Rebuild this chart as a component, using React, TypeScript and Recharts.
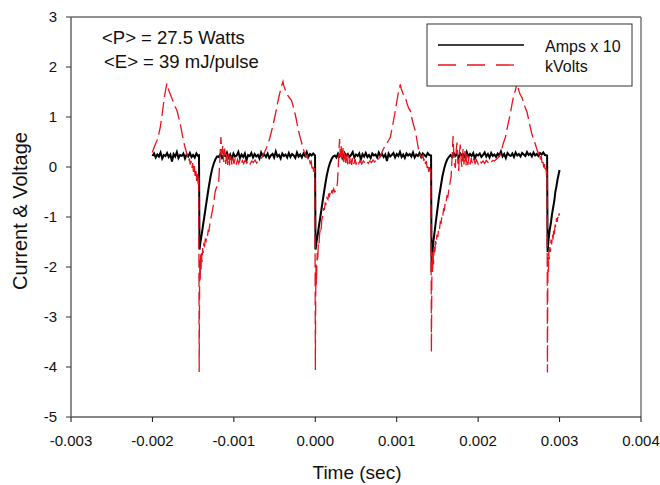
import React from 'react'
import { LineChart, Line, XAxis, YAxis, ReferenceLine } from 'recharts'

// [time in microseconds, value], one array per pulse window
const ampsA: [number, number][] = [
  [-2000, .22], [-1980, .27], [-1960, .19], [-1940, .25], [-1920, .21], [-1900, .29], [-1880, .17], [-1860, .24],
  [-1840, .22], [-1820, .28], [-1800, .2], [-1780, .25], [-1760, .11], [-1740, .26], [-1720, .21], [-1700, .3],
  [-1680, .18], [-1660, .24], [-1640, .22], [-1620, .27], [-1600, .17], [-1580, .25], [-1560, .21], [-1540, .28],
  [-1520, .2], [-1500, .24], [-1480, .19], [-1460, .27], [-1440, .22], [-1428, .23],
]
const ampsB: [number, number][] = [
  [-1422, -1.65], [-1410, -1.5], [-1395, -1.35], [-1380, -1.18], [-1365, -1.02], [-1345, -.8], [-1325, -.58],
  [-1305, -.37], [-1285, -.18], [-1265, -.03], [-1245, .08], [-1225, .16], [-1205, .21],
  [-1185, .2], [-1165, .26], [-1145, .18], [-1125, .24], [-1105, .22], [-1085, .29], [-1065, .19], [-1045, .25],
  [-1025, .16], [-1005, .27], [-985, .21], [-965, .23], [-945, .3], [-925, .18], [-905, .25], [-885, .2],
  [-865, .27], [-845, .13], [-825, .24], [-805, .22], [-785, .28], [-765, .19], [-745, .26], [-725, .21],
  [-705, .24], [-685, .17], [-665, .29], [-645, .22], [-625, .25], [-605, .2], [-585, .27], [-565, .18],
  [-545, .23], [-525, .26], [-505, .19], [-485, .31], [-465, .21], [-445, .24], [-425, .17], [-405, .27],
  [-385, .22], [-365, .25], [-345, .19], [-325, .28], [-305, .2], [-285, .26], [-265, .23], [-245, .18],
  [-225, .29], [-205, .21], [-185, .25], [-165, .19], [-145, .27], [-125, .22], [-105, .3], [-85, .2],
  [-65, .26], [-45, .23], [-25, .27], [-3, .23],
]
const ampsC: [number, number][] = [
  [3, -1.65], [15, -1.5], [30, -1.35], [45, -1.18], [60, -1.02], [80, -.8], [100, -.58], [120, -.37],
  [140, -.18], [160, -.03], [180, .08], [200, .16], [220, .21],
  [240, .23], [260, .19], [280, .27], [300, .21], [320, .25], [340, .17], [360, .28], [380, .22],
  [400, .26], [420, .2], [440, .24], [460, .3], [480, .19], [500, .25], [520, .22], [540, .27],
  [560, .15], [580, .26], [600, .21], [620, .28], [640, .2], [660, .24], [680, .18], [700, .27],
  [720, .23], [740, .25], [760, .19], [780, .29], [800, .22], [820, .26], [840, .2], [860, .25],
  [880, .12], [900, .27], [920, .21], [940, .24], [960, .28], [980, .19], [1000, .26], [1020, .22],
  [1040, .3], [1060, .2], [1080, .25], [1100, .18], [1120, .27], [1140, .23], [1160, .26], [1180, .21],
  [1200, .29], [1220, .19], [1240, .25], [1260, .22], [1280, .28], [1300, .2], [1320, .27], [1340, .24],
  [1360, .21], [1380, .28], [1400, .24], [1422, .23],
]
const ampsD: [number, number][] = [
  [1428, -2.1], [1438, -1.75], [1450, -1.5], [1465, -1.3], [1480, -1.1], [1500, -.85], [1520, -.6],
  [1540, -.4], [1560, -.2], [1580, -.05], [1600, .07], [1620, .15], [1640, .2],
  [1660, .24], [1680, .2], [1700, .28], [1720, .22], [1740, .26], [1760, .18], [1780, .27], [1800, .23],
  [1820, .25], [1840, .19], [1860, .3], [1880, .21], [1900, .26], [1920, .22], [1940, .28], [1960, .17],
  [1980, .25], [2000, .23], [2020, .27], [2040, .2], [2060, .24], [2080, .29], [2100, .21], [2120, .26],
  [2140, .19], [2160, .28], [2180, .22], [2200, .25], [2220, .2], [2240, .27], [2260, .23], [2280, .31],
  [2300, .21], [2320, .26], [2340, .18], [2360, .28], [2380, .24], [2400, .22], [2420, .27], [2440, .2],
  [2460, .29], [2480, .23], [2500, .26], [2520, .21], [2540, .28], [2560, .25], [2580, .22], [2600, .3],
  [2620, .24], [2640, .27], [2660, .21], [2680, .29], [2700, .23], [2720, .26], [2740, .22], [2760, .28],
  [2780, .25], [2800, .29], [2820, .24], [2847, .23],
]
const ampsE: [number, number][] = [
  [2853, -1.7], [2865, -1.45], [2880, -1.25], [2895, -1.1], [2907, -.95], [2920, -.82], [2935, -.68],
  [2948, -.5], [2960, -.4], [2975, -.25], [2988, -.15], [3000, -.06],
]

const voltsA: [number, number][] = [
  [-2000, .29], [-1985, .37], [-1970, .43], [-1955, .49], [-1945, .52], [-1932, .6], [-1918, .69], [-1904, .79],
  [-1890, .95], [-1877, 1.1], [-1864, 1.26], [-1850, 1.42], [-1836, 1.56], [-1826, 1.64], [-1822, 1.67],
  [-1812, 1.6], [-1802, 1.55], [-1792, 1.5], [-1781, 1.46], [-1770, 1.41], [-1760, 1.37], [-1750, 1.33],
  [-1741, 1.29], [-1730, 1.25], [-1720, 1.2], [-1710, 1.17], [-1699, 1.13], [-1688, 1.06], [-1678, .99],
  [-1668, .93], [-1658, .86], [-1648, .77], [-1638, .69], [-1628, .6], [-1618, .52], [-1608, .45],
  [-1597, .38], [-1587, .32], [-1576, .26], [-1566, .18], [-1556, .12], [-1546, .17], [-1536, .05],
  [-1526, .12], [-1516, -.02], [-1506, .08], [-1496, -.1], [-1486, .02], [-1476, -.18], [-1466, -.05],
  [-1456, -.28], [-1446, -.12], [-1438, -.35], [-1431, -.2],
]
const voltsB: [number, number][] = [
  [-1426, -4.1], [-1421, -2.4], [-1417, -1.85], [-1413, -2.25], [-1408, -1.75], [-1403, -2.05], [-1397, -1.72],
  [-1391, -1.9], [-1384, -1.62], [-1377, -1.72], [-1369, -1.55], [-1360, -1.58], [-1351, -1.45], [-1342, -1.48],
  [-1333, -1.36], [-1324, -1.38], [-1315, -1.27], [-1306, -1.28], [-1297, -1.16], [-1288, -1.1], [-1279, -1.0],
  [-1270, -.93], [-1260, -.84], [-1250, -.74], [-1240, -.62], [-1230, -.5], [-1220, -.44], [-1210, -.4],
  [-1200, -.38], [-1188, -.36], [-1175, .05], [-1159, .6], [-1148, .25], [-1135, .44], [-1124, .1],
  [-1112, .37], [-1100, .06], [-1088, .3], [-1075, .04], [-1062, .26], [-1050, .03], [-1038, .22],
  [-1025, .05], [-1012, .19], [-1000, .06], [-985, .17], [-970, .05], [-955, .15], [-940, .07], [-925, .14],
  [-910, .06], [-895, .13], [-880, .07], [-860, .14], [-840, .08], [-820, .13], [-800, .06], [-780, .12],
  [-760, .09], [-740, .14], [-720, .08], [-700, .12], [-680, .13], [-660, .18], [-640, .25], [-620, .31],
  [-600, .38], [-580, .47], [-560, .57], [-540, .7], [-520, .83], [-500, .98], [-480, 1.13], [-460, 1.3],
  [-440, 1.45], [-420, 1.58], [-407, 1.66], [-397, 1.71], [-386, 1.62], [-374, 1.57], [-361, 1.5],
  [-348, 1.46], [-334, 1.42], [-320, 1.39], [-305, 1.36], [-290, 1.32], [-275, 1.24], [-260, 1.14],
  [-246, 1.05], [-232, .94], [-218, .82], [-205, .72], [-190, .62], [-175, .53], [-163, .46], [-150, .38],
  [-137, .31], [-123, .26], [-110, .2], [-98, .23], [-86, .12], [-74, .16], [-62, .07], [-50, .11],
  [-40, -.03], [-30, .05], [-20, -.1], [-12, -.02], [-5, -.16],
]
const voltsC: [number, number][] = [
  [1, -4.06], [5, -2.6], [9, -1.95], [13, -2.35], [18, -2.05], [24, -1.72], [30, -1.88], [37, -1.55],
  [44, -1.6], [52, -1.35], [61, -1.25], [70, -1.3], [80, -1.05], [90, -1.0], [102, -.82], [112, -.86],
  [122, -.72], [132, -.74], [143, -.62], [155, -.65], [165, -.53], [175, -.58], [185, -.5], [195, -.55],
  [205, -.46], [215, -.51], [226, -.44], [240, -.5], [258, -.46], [272, -.32], [286, .15], [298, .56],
  [308, .2], [318, .42], [328, .12], [340, .38], [350, .1], [362, .32], [374, .08], [386, .28], [398, .05],
  [410, .24], [422, .06], [434, .2], [446, .04], [460, .18], [474, .06], [488, .16], [502, .05], [518, .14],
  [535, .07], [550, .13], [570, .06], [590, .12], [610, .08], [630, .13], [650, .07], [670, .12], [690, .09],
  [710, .14], [730, .1], [750, .15], [765, .12], [780, .17], [800, .22], [820, .3], [840, .37], [860, .43],
  [880, .48], [900, .53], [921, .59], [940, .75], [960, .92], [980, 1.1], [1000, 1.3], [1020, 1.48],
  [1034, 1.58], [1044, 1.65], [1055, 1.57], [1070, 1.5], [1085, 1.43], [1106, 1.39], [1125, 1.28],
  [1145, 1.18], [1167, 1.13], [1185, .98], [1205, .85], [1229, .72], [1250, .52], [1270, .33], [1290, .24],
  [1311, .19], [1323, .23], [1333, .12], [1343, .18], [1353, .06], [1363, .12], [1373, -.02], [1383, .06],
  [1393, -.1], [1403, 0], [1412, -.14], [1419, -.05],
]
const voltsD: [number, number][] = [
  [1426, -3.7], [1431, -2.3], [1435, -1.7], [1440, -2.1], [1446, -1.75], [1452, -1.95], [1460, -1.6],
  [1468, -1.75], [1476, -1.48], [1485, -1.55], [1495, -1.35], [1505, -1.4], [1515, -1.22], [1525, -1.25],
  [1535, -1.1], [1545, -1.12], [1556, -.95], [1566, -.98], [1576, -.84], [1586, -.86], [1597, -.68],
  [1607, -.7], [1617, -.58], [1628, -.6], [1638, -.48], [1648, -.4], [1658, -.28], [1668, -.2], [1680, .2],
  [1692, .62], [1705, .1], [1720, -.02], [1731, .35], [1741, .49], [1751, .1], [1761, -.08], [1771, .3],
  [1781, .45], [1792, .1], [1802, 0], [1814, .36], [1826, .05], [1838, .32], [1850, .02], [1862, .26],
  [1874, .04], [1888, .22], [1902, .05], [1916, .18], [1930, .06], [1946, .16], [1962, .07], [1980, .14],
  [2000, .06], [2020, .13], [2040, .08], [2060, .12], [2080, .07], [2100, .13], [2120, .09], [2140, .14],
  [2160, .1], [2180, .13], [2200, .12], [2220, .15], [2240, .18], [2260, .22], [2273, .25], [2290, .36],
  [2310, .48], [2334, .59], [2350, .72], [2370, .88], [2395, 1.06], [2415, 1.25], [2435, 1.42], [2457, 1.53],
  [2470, 1.62], [2478, 1.72], [2490, 1.6], [2505, 1.5], [2520, 1.44], [2539, 1.39], [2560, 1.28],
  [2580, 1.18], [2600, 1.1], [2620, .95], [2641, .79], [2660, .66], [2680, .56], [2702, .46], [2720, .36],
  [2743, .26], [2755, .3], [2765, .15], [2775, .22], [2785, .08], [2795, .14], [2805, -.01], [2815, .06],
  [2825, -.1], [2833, -.02], [2840, -.18], [2846, -.1],
]
const voltsE: [number, number][] = [
  [2851, -4.11], [2855, -2.4], [2859, -1.8], [2863, -2.1], [2867, -1.7], [2873, -1.85], [2880, -1.6],
  [2887, -1.7], [2895, -1.45], [2903, -1.55], [2912, -1.35], [2920, -1.45], [2928, -1.25], [2936, -1.35],
  [2945, -1.15], [2953, -1.2], [2962, -1.02], [2970, -1.1], [2978, -1.0], [2986, -1.05], [2994, -.93],
  [3000, -.96],
]

const xTicks = [-0.003, -0.002, -0.001, 0, 0.001, 0.002, 0.003, 0.004]
const yTicks = [-5, -4, -3, -2, -1, 0, 1, 2, 3]
const notes = ['<P> = 27.5 Watts', '<E> = 39 mJ/pulse']
const seriesNames = ['Amps x 10', 'kVolts']

const toRows = (pts: [number, number][]) => pts.map(([us, v]) => ({ t: us / 1e6, v }))
const ampsRows = toRows([...ampsA, ...ampsB, ...ampsC, ...ampsD, ...ampsE])
const voltsRows = toRows([...voltsA, ...voltsB, ...voltsC, ...voltsD, ...voltsE])

const font = '"Liberation Sans", Arial, sans-serif'
const RED = '#e8141c'

export default function App() {
  return (
    <div style={{ position: 'absolute', left: 0, top: 0, width: 660, height: 485, background: '#fff', fontFamily: font }}>
      <LineChart width={660} height={485} margin={{ top: 17, right: 19, bottom: 0, left: 0 }}>
        <XAxis
          type="number"
          dataKey="t"
          domain={[-0.003, 0.004]}
          ticks={xTicks}
          tickFormatter={(v: number) => v.toFixed(3)}
          height={68}
          tickSize={5}
          tickMargin={13}
          allowDataOverflow
          axisLine={{ stroke: '#111' }}
          tickLine={{ stroke: '#111' }}
          tick={{ fontSize: 15, fill: '#111', fontFamily: font }}
        />
        <YAxis
          type="number"
          domain={[-5, 3]}
          ticks={yTicks}
          width={71}
          tickSize={5}
          tickMargin={9}
          allowDataOverflow
          axisLine={{ stroke: '#666', strokeWidth: 1.5 }}
          tickLine={{ stroke: '#333' }}
          tick={{ fontSize: 15, fill: '#111', fontFamily: font }}
        />
        <ReferenceLine y={3} stroke="#222" />
        <ReferenceLine x={0.004} stroke="#777" strokeWidth={1.5} />
        <Line data={ampsRows} dataKey="v" type="linear" stroke="#000" strokeWidth={2} dot={false} isAnimationActive={false} />
        <Line data={voltsRows} dataKey="v" type="linear" stroke={RED} strokeWidth={1.3} strokeDasharray="14 5" dot={false} isAnimationActive={false} />
      </LineChart>
      <svg width={660} height={485} style={{ position: 'absolute', left: 0, top: 0, pointerEvents: 'none' }} fontFamily={font}>
        <text x={102} y={43.5} fontSize={18.5} fill="#111">{notes[0]}</text>
        <text x={104} y={67.5} fontSize={18.5} fill="#111">{notes[1]}</text>
        <text x={27} y={211} fontSize={20} fill="#111" textAnchor="middle" transform="rotate(-90 27 211)">Current &amp; Voltage</text>
        <text x={357} y={479} fontSize={19} fill="#111" textAnchor="middle">Time (sec)</text>
        <rect x={427} y={24} width={205} height={62} fill="#fff" stroke="#333" />
        <line x1={438} x2={524} y1={45} y2={45} stroke="#000" strokeWidth={1.3} />
        <line x1={438} x2={517} y1={65} y2={65} stroke={RED} strokeWidth={1.3} strokeDasharray="18 11" />
        <text x={545} y={51.5} fontSize={16} fill="#111">{seriesNames[0]}</text>
        <text x={545} y={71.5} fontSize={16} fill="#111">{seriesNames[1]}</text>
      </svg>
    </div>
  )
}
